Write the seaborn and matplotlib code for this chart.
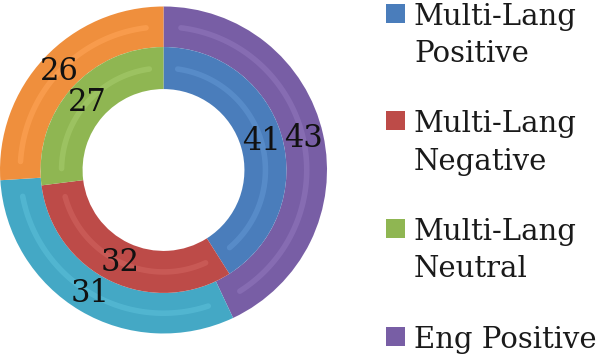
import numpy as np
import matplotlib
matplotlib.use("Agg")
import matplotlib.pyplot as plt
import seaborn as sns
from matplotlib.patches import Rectangle

sns.set_theme(style="white")
plt.rcParams['font.family'] = ['DejaVu Serif']

# data
inner_labels = ["Multi-Lang Positive", "Multi-Lang Negative", "Multi-Lang Neutral"]
inner_values = [41, 32, 27]
outer_labels = ["Eng Positive", "Eng Negative", "Eng Neutral"]
outer_values = [43, 31, 26]
legend_labels = ["Multi-Lang\nPositive", "Multi-Lang\nNegative", "Multi-Lang\nNeutral", "Eng Positive"]

inner_colors = ["#4a7dbb", "#bd4b48", "#8fb652"]
outer_colors = ["#785ea5", "#44a8c5", "#ef8f3d"]
inner_hl = ["#5b8fcc", "#cc5d59", "#a0c665"]
outer_hl = ["#8a70b6", "#55b9d4", "#fb9f50"]

W, H = 600, 355
fig = plt.figure(figsize=(W / 100, H / 100), dpi=100)
ax = fig.add_axes([0.0, 0.0606, 0.545, 0.9211])
ax.set_aspect("equal")
ax.axis("off")

R_out, R_mid, R_in = 1.0, 0.752, 0.495
w_out = R_out - R_mid
w_in = R_mid - R_in

wo, _ = ax.pie(outer_values, radius=R_out, colors=outer_colors, startangle=90,
               counterclock=False, wedgeprops=dict(width=w_out, edgecolor="none"))
wi, _ = ax.pie(inner_values, radius=R_mid, colors=inner_colors, startangle=90,
               counterclock=False, wedgeprops=dict(width=w_in, edgecolor="none", linewidth=0))

# bevel highlight stripes and value labels
def decorate(values, rmid, hls, inset):
    total = sum(values)
    start = 90.0
    for v, c in zip(values, hls):
        span = 360.0 * v / total
        a0 = start - inset
        a1 = start - span + inset
        th = np.radians(np.linspace(a0, a1, 120))
        ax.plot(rmid * np.cos(th), rmid * np.sin(th), color=c, lw=4.0,
                solid_capstyle="round", alpha=0.8, zorder=3)
        mid = np.radians(start - span / 2)
        ax.text(rmid * np.cos(mid), rmid * np.sin(mid), str(v), ha="center",
                va="center", fontsize=22, color="#111111", zorder=5)
        start -= span

decorate(outer_values, (R_out + R_mid) / 2, outer_hl, 7)
decorate(inner_values, (R_mid + R_in) / 2, inner_hl, 8)

ax.set_xlim(-1.0, 1.0)
ax.set_ylim(-1.0, 1.0)

# legend (first four series, as in the reference)
leg_colors = inner_colors + outer_colors[:1]
first_baseline = 25.0
entry_pitch = 107.5
line_pitch = 37.0
for i, (lab, col) in enumerate(zip(legend_labels, leg_colors)):
    base = first_baseline + entry_pitch * i
    fig.patches.append(Rectangle((386 / W, 1 - (base - 2) / H), 19 / W, 19 / H,
                                 transform=fig.transFigure, facecolor=col,
                                 edgecolor="none"))
    for j, line in enumerate(lab.split("\n")):
        fig.text(414 / W, 1 - (base + line_pitch * j) / H, line, ha="left",
                 va="baseline", fontsize=21, color="#1a1a1a")

fig.savefig("out.png", dpi=100)
